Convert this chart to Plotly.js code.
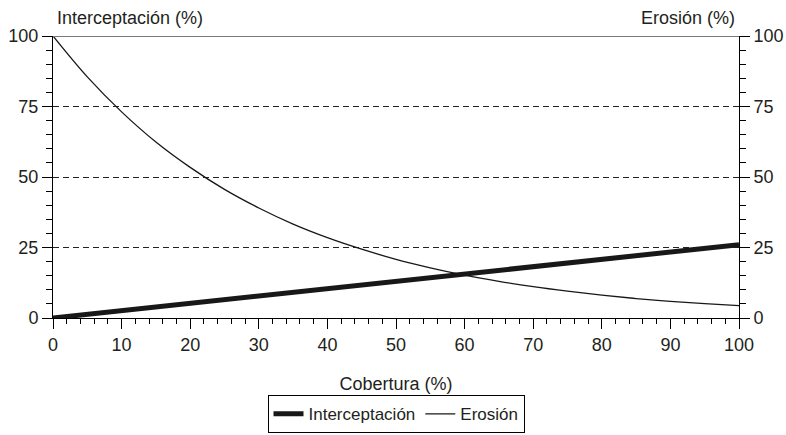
<!DOCTYPE html>
<html>
<head>
<meta charset="utf-8">
<script src="https://cdn.plot.ly/plotly-3.0.1.min.js"></script>
<style>html,body{margin:0;padding:0;background:#fff;}#chart{width:786px;height:435px;}</style>
</head>
<body>
<div id="chart"></div>
<script>
// Data
const coberturaX = [0, 5, 10, 15, 20, 25, 30, 35, 40, 45, 50, 55, 60, 65, 70, 75, 80, 85, 90, 95, 100];
const erosion = [100, 85.5, 73.1, 62.4, 53.4, 45.6, 39.0, 33.3, 28.5, 24.4, 20.8, 17.8, 15.2, 13.0, 11.1, 9.5, 8.1, 6.9, 5.9, 5.1, 4.4];
const interceptX = [0, 100];
const interceptacion = [0, 26];
const xTicks = [0, 10, 20, 30, 40, 50, 60, 70, 80, 90, 100];
const yTicks = [0, 25, 50, 75, 100];
const seriesNames = ["Interceptación", "Erosión"];
const titles = {x: "Cobertura (%)", yLeft: "Interceptación (%)", yRight: "Erosión (%)"};

const FONT = "Liberation Sans, Arial, Helvetica, sans-serif";
const TXT = "#231f20";

const traces = [
  {x: interceptX, y: interceptacion, name: seriesNames[0], type: "scatter", mode: "lines",
   line: {color: "#1a1718", width: 5}, xaxis: "x", yaxis: "y"},
  {x: coberturaX, y: erosion, name: seriesNames[1], type: "scatter", mode: "lines",
   line: {color: "#1a1718", width: 1.3, shape: "spline"}, xaxis: "x", yaxis: "y2"}
];

const yCommon = {
  range: [0, 100], tickvals: yTicks, ticks: "outside", ticklen: 10, tickwidth: 1, tickcolor: "#000",
  showline: true, linecolor: "#000", linewidth: 1, zeroline: false, automargin: false,
  minor: {dtick: 5, ticks: "outside", ticklen: 6, tickcolor: "#000", tickwidth: 1, showgrid: false},
  tickfont: {family: FONT, size: 18, color: TXT}, fixedrange: true
};

const layout = {
  width: 786, height: 435,
  margin: {l: 53, r: 47, t: 36, b: 117, pad: 0, autoexpand: false},
  paper_bgcolor: "#fff", plot_bgcolor: "#fff",
  font: {family: FONT, size: 18, color: TXT},
  showlegend: true,
  legend: {orientation: "h", x: 0.5, xanchor: "center", xref: "paper",
           y: 0.004, yanchor: "bottom", yref: "container",
           bordercolor: "#000", borderwidth: 1, font: {family: FONT, size: 17, color: TXT},
           itemwidth: 30, tracegroupgap: 0},
  xaxis: {
    range: [0, 100], tickvals: xTicks, ticks: "outside", ticklen: 10, tickcolor: "#000",
    showline: true, linecolor: "#000", linewidth: 1, zeroline: false, showgrid: false, automargin: false,
    minor: {dtick: 2, ticks: "outside", ticklen: 5, tickcolor: "#000", showgrid: false},
    tickfont: {family: FONT, size: 18, color: TXT},
    title: {text: titles.x, font: {family: FONT, size: 18, color: TXT}, standoff: 23},
    fixedrange: true
  },
  yaxis: Object.assign({}, yCommon, {side: "left", showgrid: true, gridcolor: "#222", gridwidth: 1, griddash: "6px,4px"}),
  yaxis2: Object.assign({}, yCommon, {side: "right", overlaying: "y", anchor: "x", showgrid: false}),
  shapes: [
    {type: "line", xref: "paper", x0: 0, x1: 1, yref: "y", y0: 100, y1: 100,
     line: {color: "#7a7a7a", width: 2}}
  ],
  annotations: [
    {text: titles.yLeft, xref: "paper", yref: "paper", x: 0, y: 1.064, xanchor: "left", yanchor: "middle",
     xshift: 2, showarrow: false, font: {family: FONT, size: 18, color: TXT}},
    {text: titles.yRight, xref: "paper", yref: "paper", x: 1, y: 1.064, xanchor: "right", yanchor: "middle",
     xshift: -2, showarrow: false, font: {family: FONT, size: 18, color: TXT}}
  ]
};

Plotly.newPlot("chart", traces, layout, {displayModeBar: false, staticPlot: true});
</script>
</body>
</html>
